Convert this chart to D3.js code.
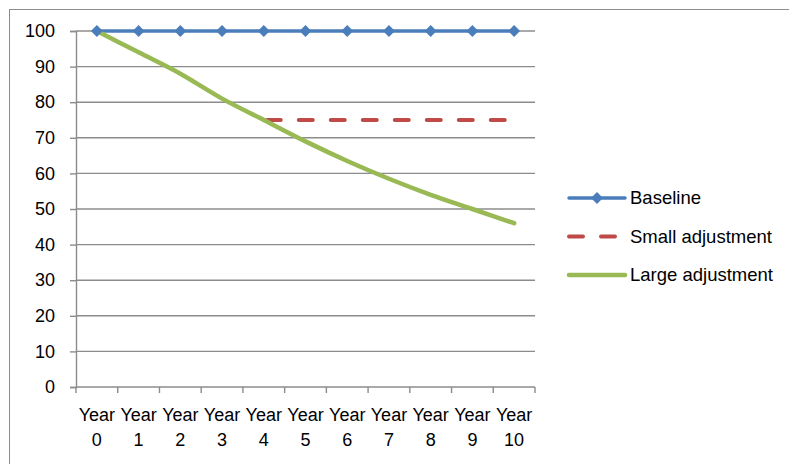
<!DOCTYPE html>
<html>
<head>
<meta charset="utf-8">
<script src="https://cdn.jsdelivr.net/npm/d3@7/dist/d3.min.js"></script>
<style>
  html, body { margin: 0; padding: 0; background: #fff; }
  svg { display: block; }
  text { font-family: "Liberation Sans", Arial, sans-serif; font-size: 18px; fill: #000; }
</style>
</head>
<body>
<svg id="chart" width="789" height="464"></svg>
<script>
// Category labels (two lines each) and series values
const categories = ["Year 0","Year 1","Year 2","Year 3","Year 4","Year 5","Year 6","Year 7","Year 8","Year 9","Year 10"];
const baseline = [100,100,100,100,100,100,100,100,100,100,100];
const smallAdjustment = [null,null,null,null,75,75,75,75,75,75,75];
const largeAdjustment = [100,94,88,81,75,69,63.5,58.5,54,50,46];
const yTicks = [0,10,20,30,40,50,60,70,80,90,100];
const seriesNames = ["Baseline","Small adjustment","Large adjustment"];

const colors = { base: "#4A7EBB", small: "#BE4B48", large: "#98B954", grid: "#8C8C8C" };
const FONT = '"Liberation Sans", Arial, sans-serif';

const svg = d3.select("#chart");
const plot = { left: 76, right: 535, top: 31, bottom: 387 };

// Outer chart frame
svg.append("rect")
  .attr("x", 9.5).attr("y", 9.5)
  .attr("width", 800).attr("height", 480)
  .attr("fill", "none").attr("stroke", "#8C8C8C").attr("stroke-width", 1);

const x = d3.scaleBand().domain(categories).range([plot.left, plot.right]).paddingInner(0).paddingOuter(0);
const y = d3.scaleLinear().domain([0, 100]).range([plot.bottom, plot.top]);
const cx = c => x(c) + x.bandwidth() / 2;

// Horizontal gridlines
svg.append("g").selectAll("line").data(yTicks.filter(t => t > 0)).join("line")
  .attr("x1", plot.left).attr("x2", plot.right)
  .attr("y1", d => y(d)).attr("y2", d => y(d))
  .attr("stroke", colors.grid).attr("stroke-width", 1.4);

// Y axis
const yAxis = svg.append("g").attr("transform", `translate(${plot.left},0)`)
  .call(d3.axisLeft(y).tickValues(yTicks).tickSize(6).tickPadding(15));
yAxis.select(".domain").attr("stroke", colors.grid).attr("stroke-width", 1.4);
yAxis.selectAll(".tick line").attr("stroke", colors.grid).attr("stroke-width", 1.4);
yAxis.selectAll("text").style("font-family", FONT).style("font-size", "18px").attr("fill", "#000");

// X axis: ticks sit on category boundaries
const boundaries = d3.range(categories.length + 1).map(i => plot.left + i * x.bandwidth());
const xg = svg.append("g");
xg.append("line").attr("x1", plot.left).attr("x2", plot.right)
  .attr("y1", plot.bottom).attr("y2", plot.bottom)
  .attr("stroke", colors.grid).attr("stroke-width", 1.4);
xg.selectAll("line.tk").data(boundaries).join("line").attr("class", "tk")
  .attr("x1", d => d).attr("x2", d => d)
  .attr("y1", plot.bottom).attr("y2", plot.bottom + 6)
  .attr("stroke", colors.grid).attr("stroke-width", 1.4);
const lbl = xg.selectAll("text").data(categories).join("text")
  .attr("text-anchor", "middle")
  .attr("x", d => cx(d));
lbl.append("tspan").attr("x", d => cx(d)).attr("y", 421).text(d => d.split(" ")[0]);
lbl.append("tspan").attr("x", d => cx(d)).attr("y", 446).text(d => d.split(" ")[1]);

// Series lines
const lineGen = d3.line()
  .defined(d => d.v !== null)
  .x(d => cx(d.c)).y(d => y(d.v));
const toPts = arr => categories.map((c, i) => ({ c, v: arr[i] }));

svg.append("path").datum(toPts(baseline))
  .attr("d", lineGen).attr("fill", "none")
  .attr("stroke", colors.base).attr("stroke-width", 3.5).attr("stroke-linejoin", "round");

svg.append("path").datum(toPts(smallAdjustment))
  .attr("d", lineGen).attr("fill", "none")
  .attr("stroke", colors.small).attr("stroke-width", 4)
  .attr("stroke-linecap", "round")
  .attr("stroke-dasharray", "14,18").attr("stroke-dashoffset", -3);

svg.append("path").datum(toPts(largeAdjustment))
  .attr("d", d3.line().x(d => cx(d.c)).y(d => y(d.v)).curve(d3.curveMonotoneX))
  .attr("fill", "none")
  .attr("stroke", colors.large).attr("stroke-width", 4.5)
  .attr("stroke-linecap", "round").attr("stroke-linejoin", "round");

// Diamond markers on the baseline
const diamond = d3.symbol().type(d3.symbolDiamond2).size(90);
svg.append("g").selectAll("path").data(toPts(baseline)).join("path")
  .attr("d", diamond)
  .attr("transform", d => `translate(${cx(d.c)},${y(d.v)})`)
  .attr("fill", colors.base);

// Legend
const legend = svg.append("g");
const rows = [
  { name: seriesNames[0], color: colors.base, dash: null, marker: true, w: 3.5 },
  { name: seriesNames[1], color: colors.small, dash: "14,18", marker: false, w: 4 },
  { name: seriesNames[2], color: colors.large, dash: null, marker: false, w: 4.5 }
];
rows.forEach((r, i) => {
  const ly = 198 + i * 38.5;
  legend.append("line")
    .attr("x1", 569).attr("x2", 625).attr("y1", ly).attr("y2", ly)
    .attr("stroke", r.color).attr("stroke-width", r.w)
    .attr("stroke-linecap", "round")
    .attr("stroke-dasharray", r.dash);
  if (r.marker) {
    legend.append("path").attr("d", diamond)
      .attr("transform", `translate(597,${ly})`).attr("fill", r.color);
  }
  legend.append("text").attr("x", 630).attr("y", ly).attr("dy", "0.35em")
    .style("font-size", "18.5px").text(r.name);
});
</script>
</body>
</html>
